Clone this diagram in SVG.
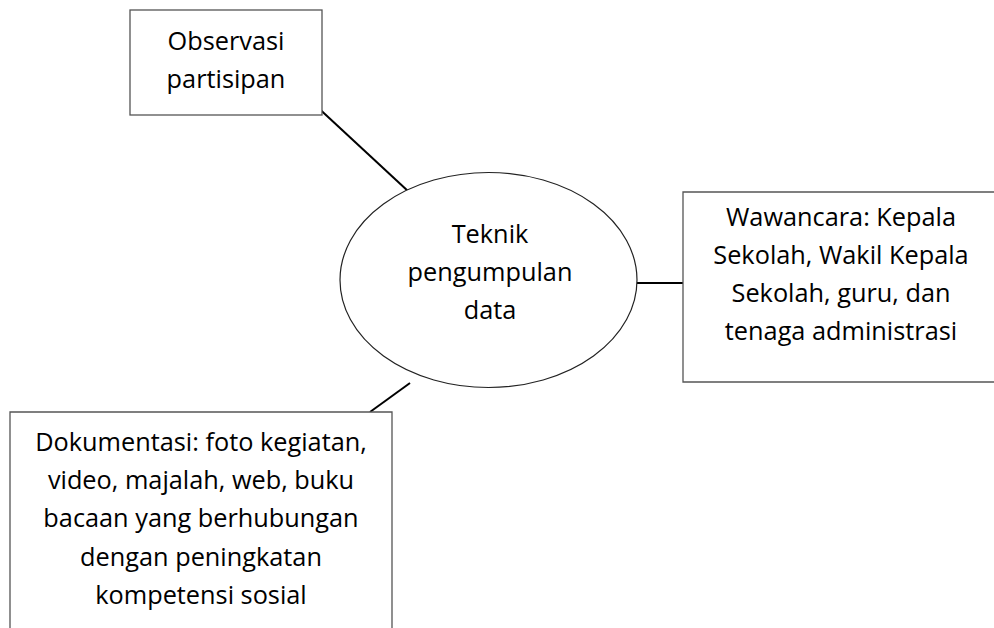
<svg xmlns="http://www.w3.org/2000/svg" width="994" height="628" viewBox="0 0 994 628">
<style>
.box{fill:#fff;stroke:#555;stroke-width:1.3}
.ell{fill:#fff;stroke:#222;stroke-width:1.2}
.con{stroke:#000;stroke-width:2;fill:none}
text{font-family:"Open Sans","Liberation Sans",Arial,sans-serif;font-size:25.3px;fill:#000;text-anchor:middle}
</style>
<rect width="994" height="628" fill="#fff"/>
<g id="connectors">
<line class="con" x1="313" y1="103" x2="409" y2="192"/>
<line class="con" x1="637" y1="283" x2="683" y2="283"/>
<line class="con" x1="370" y1="412" x2="410" y2="383"/>
</g>
<g id="observasi">
<rect class="box" x="130" y="10" width="192" height="105"/>
<text x="226" y="50">Observasi</text>
<text x="226" y="88">partisipan</text>
</g>
<g id="teknik">
<ellipse class="ell" cx="488.5" cy="280" rx="148.5" ry="107.5"/>
<text x="490" y="243">Teknik</text>
<text x="490" y="281">pengumpulan</text>
<text x="490" y="319">data</text>
</g>
<g id="wawancara">
<path class="box" d="M1000 192 H683 V382 H1000"/>
<text x="841" y="226">Wawancara: Kepala</text>
<text x="841" y="264">Sekolah, Wakil Kepala</text>
<text x="841" y="302">Sekolah, guru, dan</text>
<text x="841" y="340">tenaga administrasi</text>
</g>
<g id="dokumentasi">
<path class="box" d="M10 640 V412 H392 V640"/>
<text x="201" y="451">Dokumentasi: foto kegiatan,</text>
<text x="201" y="489">video, majalah, web, buku</text>
<text x="201" y="527">bacaan yang berhubungan</text>
<text x="201" y="566">dengan peningkatan</text>
<text x="201" y="604">kompetensi sosial</text>
</g>
</svg>
